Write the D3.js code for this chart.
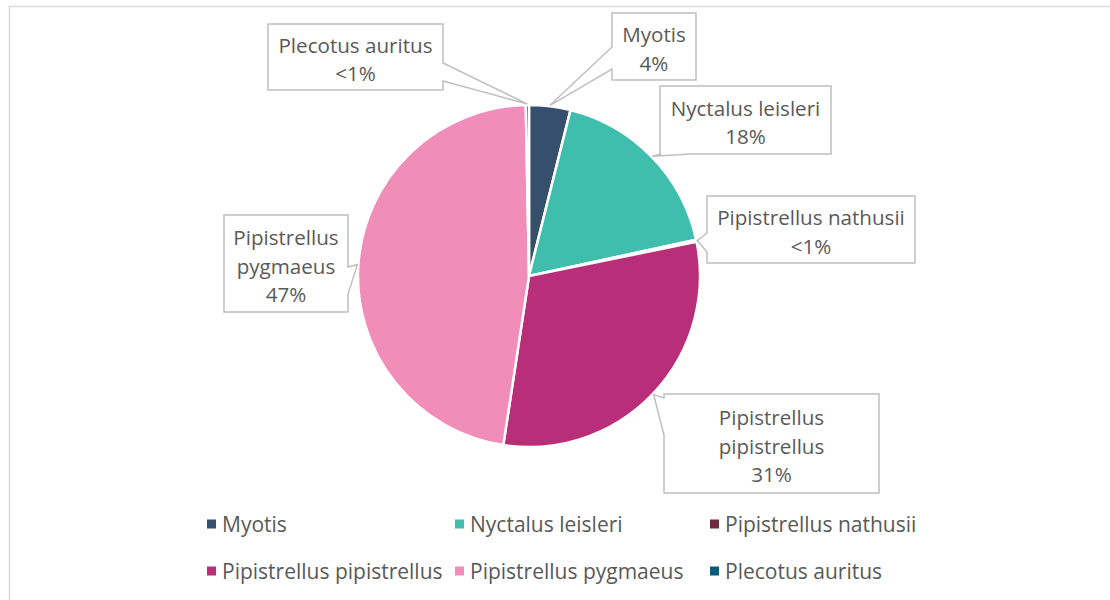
<!DOCTYPE html>
<html>
<head>
<meta charset="utf-8">
<script src="https://cdn.jsdelivr.net/npm/d3@7"></script>
<style>
    body { margin: 0; background: #fff; }
    svg text { font-family: "Open Sans", sans-serif; fill: #595959; }
</style>
</head>
<body>
<div id="chart"></div>
<script>
// data (percent of records)
const species = ['Myotis', 'Nyctalus leisleri', 'Pipistrellus nathusii',
    'Pipistrellus pipistrellus', 'Pipistrellus pygmaeus', 'Plecotus auritus']
const shares = [3.9, 17.7, 0.2, 30.6, 47.3, 0.3]
const colours = ['#364f6d', '#40bead', '#6e2a45', '#b82e78', '#f18db9', '#0e5a7a']

function drawPie() {
    const width = 1110
    const height = 600
    const center = [529, 276]
    const radius = 171

    const svg = d3.select('#chart')
        .append('svg')
        .attr('width', width)
        .attr('height', height)

    // chart area outline (runs off the right / bottom edge)
    svg.append('rect')
        .attr('x', 9.5)
        .attr('y', 6.5)
        .attr('width', width + 20)
        .attr('height', height + 20)
        .attr('fill', 'none')
        .attr('stroke', '#d9d9d9')
        .attr('stroke-width', 1.5)

    const rows = species.map((name, i) => ({ name, value: shares[i], colour: colours[i] }))

    const pie = d3.pie()
        .sort(null)
        .value(d => d.value)
    const arcs = pie(rows)

    const arc = d3.arc()
        .innerRadius(0)
        .outerRadius(radius)

    const tipArc = d3.arc()
        .innerRadius(radius + 1)
        .outerRadius(radius + 1)

    const bounds = svg.append('g')
        .attr('transform', `translate(${center[0]}, ${center[1]})`)

    bounds.selectAll('.slice')
        .data(arcs)
        .enter().append('path')
        .attr('class', 'slice')
        .attr('d', arc)
        .attr('fill', d => d.data.colour)
        .attr('stroke', '#fff')
        .attr('stroke-width', 2.5)
        .attr('stroke-linejoin', 'round')

    // callout boxes, placed where the original has them
    const boxes = {
        'Myotis': { x: 612, y: 13, w: 84, h: 67, side: 'left', base: [47, 69], wrap: false },
        'Nyctalus leisleri': { x: 660, y: 86, w: 171, h: 68, side: 'bottom', base: [661, 690], wrap: false },
        'Pipistrellus nathusii': { x: 707, y: 196, w: 208, h: 67, side: 'left', base: [233, 252], wrap: false },
        'Pipistrellus pipistrellus': { x: 664, y: 394, w: 215, h: 99, side: 'left', base: [398, 435], wrap: true },
        'Pipistrellus pygmaeus': { x: 224, y: 215, w: 124, h: 97, side: 'right', base: [267, 294], wrap: true },
        'Plecotus auritus': { x: 268, y: 24, w: 175, h: 66, side: 'right', base: [63, 81], wrap: false },
    }

    const pctFormat = v => v < 1 ? '<1%' : `${Math.round(v)}%`

    function calloutPath(b, tip) {
        const [a0, a1] = b.base
        const x0 = b.x, y0 = b.y, x1 = b.x + b.w, y1 = b.y + b.h
        const p = d3.path()
        p.moveTo(x0, y0)
        p.lineTo(x1, y0)
        if (b.side == 'right') {
            p.lineTo(x1, a0); p.lineTo(tip[0], tip[1]); p.lineTo(x1, a1)
        }
        p.lineTo(x1, y1)
        if (b.side == 'bottom') {
            p.lineTo(a1, y1); p.lineTo(tip[0], tip[1]); p.lineTo(a0, y1)
        }
        p.lineTo(x0, y1)
        if (b.side == 'left') {
            p.lineTo(x0, a1); p.lineTo(tip[0], tip[1]); p.lineTo(x0, a0)
        }
        p.closePath()
        return p.toString()
    }

    const labels = svg.append('g')
    const lineHeight = 28.5

    arcs.forEach(d => {
        const b = boxes[d.data.name]
        const c = tipArc.centroid(d)
        const tip = [c[0] + center[0], c[1] + center[1]]

        labels.append('path')
            .attr('d', calloutPath(b, tip))
            .attr('fill', '#fff')
            .attr('stroke', '#bfbfbf')
            .attr('stroke-width', 1.5)

        const lines = (b.wrap ? d.data.name.split(' ') : [d.data.name])
            .concat([pctFormat(d.data.value)])
        const cy = b.y + b.h / 2
        labels.append('text')
            .attr('text-anchor', 'middle')
            .attr('font-size', 20.6)
            .selectAll('tspan')
            .data(lines)
            .enter().append('tspan')
            .attr('x', b.x + b.w / 2)
            .attr('y', (t, i) => cy + (i - (lines.length - 1) / 2) * lineHeight + 10)
            .text(t => t)
    })

    // legend
    const legendCols = [207, 455, 710]
    const legendRows = [524, 571]
    const legend = svg.append('g')
        .selectAll('g')
        .data(rows)
        .enter().append('g')
        .attr('transform', (d, i) => `translate(${legendCols[i % 3]}, ${legendRows[Math.floor(i / 3)]})`)

    legend.append('rect')
        .attr('x', 0)
        .attr('y', -4.5)
        .attr('width', 9)
        .attr('height', 9)
        .attr('fill', d => d.colour)

    legend.append('text')
        .attr('x', 15)
        .attr('y', 7.5)
        .attr('font-size', 21)
        .text(d => d.name)
}

drawPie()
</script>
</body>
</html>
